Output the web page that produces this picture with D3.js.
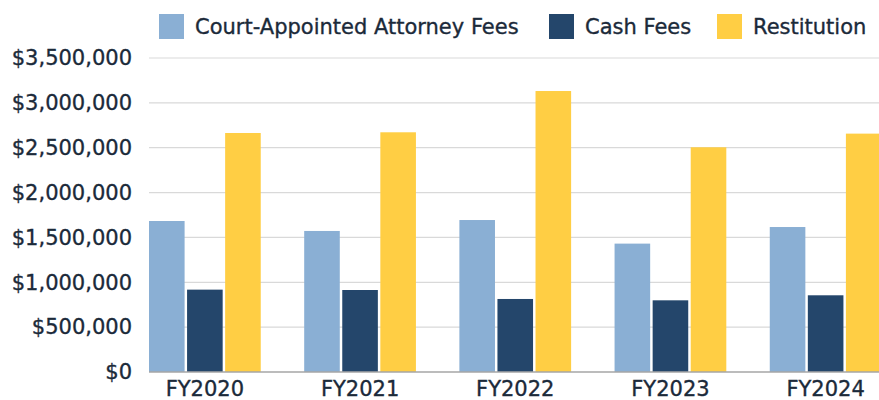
<!DOCTYPE html>
<html>
<head>
<meta charset="utf-8">
<script src="https://cdn.jsdelivr.net/npm/d3@7"></script>
<style>
  body { margin: 0; background: #fff; }
  text { font-family: "DejaVu Sans", sans-serif; fill: #1b2a3a; stroke: #1b2a3a; stroke-width: 0.35px; }
</style>
</head>
<body>
<div id="chart"></div>
<script>
var years = ["FY2020", "FY2021", "FY2022", "FY2023", "FY2024"];
var seriesNames = ["Court-Appointed Attorney Fees", "Cash Fees", "Restitution"];
var attorneyFees = [1683000, 1572000, 1694000, 1431000, 1616000];
var cashFees = [918000, 914000, 814000, 799000, 855000];
var restitution = [2664000, 2672000, 3132000, 2505000, 2657000];
var yTicks = [0, 500000, 1000000, 1500000, 2000000, 2500000, 3000000, 3500000];
var colors = ["#8aafd4", "#24466b", "#ffce44"];

var seriesValues = [attorneyFees, cashFees, restitution];

var width = 879, height = 400;
var margin = {top: 58, left: 149, bottom: 28};

var svg = d3.select("#chart")
  .append("svg")
  .attr("width", width)
  .attr("height", height);

var y = d3.scaleLinear()
  .domain([0, 3500000])
  .range([height - margin.bottom, margin.top]);

var x = d3.scaleBand()
  .domain(years)
  .range([margin.left, 881.5])
  .paddingInner(0.28)
  .paddingOuter(0);

var xSub = d3.scaleBand()
  .domain(seriesNames)
  .range([0, x.bandwidth()])
  .paddingInner(0.065);

// gridlines
svg.append("g")
  .selectAll("line")
  .data(yTicks.slice(1))
  .enter().append("line")
    .attr("x1", margin.left)
    .attr("x2", width)
    .attr("y1", function(d) { return y(d); })
    .attr("y2", function(d) { return y(d); })
    .attr("stroke", "#d9d9d9")
    .attr("stroke-width", 1.2);

// y axis labels
var yAxis = d3.axisLeft(y)
  .tickValues(yTicks)
  .tickSize(0)
  .tickPadding(17)
  .tickFormat(function(d) { return "$" + d3.format(",")(d); });

svg.append("g")
  .attr("transform", "translate(" + margin.left + ",0)")
  .call(yAxis)
  .call(function(g) { g.select(".domain").remove(); })
  .selectAll("text")
    .style("font-size", "21px")
    .attr("fill", "#1b2a3a");

// bars
var groups = svg.append("g")
  .selectAll("g")
  .data(years)
  .enter().append("g")
    .attr("transform", function(d) { return "translate(" + x(d) + ",0)"; });

groups.selectAll("rect")
  .data(function(d, i) {
    return seriesNames.map(function(s, j) { return {name: s, value: seriesValues[j][i], idx: j}; });
  })
  .enter().append("rect")
    .attr("x", function(d) { return xSub(d.name); })
    .attr("y", function(d) { return y(d.value); })
    .attr("width", xSub.bandwidth())
    .attr("height", function(d) { return y(0) - y(d.value); })
    .attr("fill", function(d) { return colors[d.idx]; });

// baseline
svg.append("line")
  .attr("x1", margin.left)
  .attr("x2", width)
  .attr("y1", y(0))
  .attr("y2", y(0))
  .attr("stroke", "#a6a6a6")
  .attr("stroke-width", 1.5);

// x axis labels
var xAxis = d3.axisBottom(x).tickSize(0).tickPadding(9);
svg.append("g")
  .attr("transform", "translate(0," + y(0) + ")")
  .call(xAxis)
  .call(function(g) { g.select(".domain").remove(); })
  .selectAll("text")
    .style("font-size", "21px")
    .attr("fill", "#1b2a3a");

// legend
var legendX = [159, 549, 717];
var legend = svg.append("g")
  .selectAll("g")
  .data(seriesNames)
  .enter().append("g")
    .attr("transform", function(d, i) { return "translate(" + legendX[i] + ",14)"; });

legend.append("rect")
  .attr("width", 25)
  .attr("height", 25)
  .attr("fill", function(d, i) { return colors[i]; });

legend.append("text")
  .attr("x", 36)
  .attr("y", 19.5)
  .style("font-size", "21px")
  .text(function(d) { return d; });
</script>
</body>
</html>
